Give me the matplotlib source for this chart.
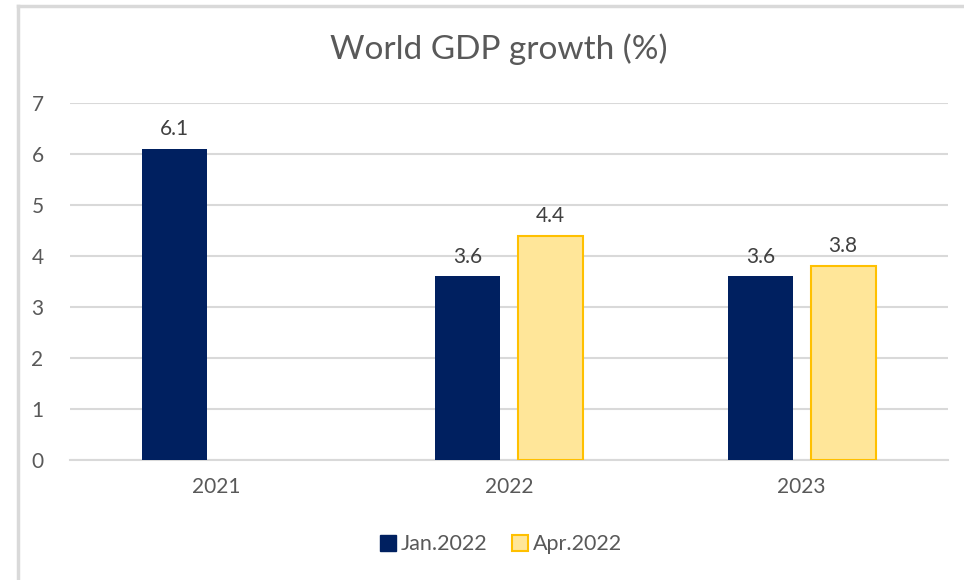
import numpy as np
import matplotlib.pyplot as plt
from matplotlib.lines import Line2D

years = ["2021", "2022", "2023"]
jan_2022 = [6.1, 3.6, 3.6]
apr_2022 = [np.nan, 4.4, 3.8]
series_names = ["Jan.2022", "Apr.2022"]

plt.rcParams['font.family'] = ['Lato', 'DejaVu Sans']

navy = "#002060"
light_gold = "#FFE699"
gold = "#FFC000"
grid_col = "#d9d9d9"
text_col = "#595959"

fig = plt.figure(figsize=(9.64, 5.8), dpi=100)
ax = fig.add_axes([0.0726, 0.2069, 0.9108, 0.6155])

x = np.arange(len(years))
width = 0.222
offset = 0.1415

bars_jan = ax.bar(x - offset, jan_2022, width, color=navy, zorder=3)
bars_apr = ax.bar(x + offset, apr_2022, width, color=light_gold,
                  edgecolor=gold, linewidth=1.5, zorder=3)

for bars, vals in [(bars_jan, jan_2022), (bars_apr, apr_2022)]:
    for b, v in zip(bars, vals):
        if np.isnan(v):
            continue
        ax.annotate(f"{v:.1f}", (b.get_x() + b.get_width() / 2, v),
                    xytext=(0, 7), textcoords="offset points",
                    ha="center", va="bottom", fontsize=15, color="#404040")

ax.set_xlim(-0.5, 2.5)
ax.set_ylim(0, 7)
ax.set_yticks(range(0, 8))
ax.set_xticks(x)
ax.set_xticklabels(years)
ax.yaxis.grid(True, color=grid_col, linewidth=1.5, zorder=0)
ax.set_axisbelow(True)
for side in ["top", "right", "left"]:
    ax.spines[side].set_visible(False)
ax.spines["bottom"].set_color(grid_col)
ax.spines["bottom"].set_linewidth(1.5)
ax.tick_params(axis="both", length=0, labelsize=15, labelcolor=text_col)
ax.tick_params(axis="y", pad=19)
ax.tick_params(axis="x", pad=12)

fig.text(0.517, 0.915, "World GDP growth (%)", ha="center", va="center",
         fontsize=24, color=text_col)

handles = [
    Line2D([], [], marker="s", linestyle="none", markersize=11,
           markerfacecolor=navy, markeredgecolor=navy),
    Line2D([], [], marker="s", linestyle="none", markersize=11,
           markerfacecolor=light_gold, markeredgecolor=gold, markeredgewidth=1.5),
]
fig.legend(handles, series_names, loc="center", bbox_to_anchor=(0.518, 0.062),
           ncol=2, frameon=False, fontsize=15.5, labelcolor=text_col,
           handletextpad=0.1, columnspacing=1.0, handlelength=1.0)

# outer frame on the left and top edges
fig.add_artist(Line2D([0.019, 0.019], [0, 0.99], color="#d9d9d9", linewidth=2.5,
                      transform=fig.transFigure))
fig.add_artist(Line2D([0.019, 1.0], [0.99, 0.99], color="#d9d9d9", linewidth=2.5,
                      transform=fig.transFigure))

fig.savefig("out.png", dpi=100)
